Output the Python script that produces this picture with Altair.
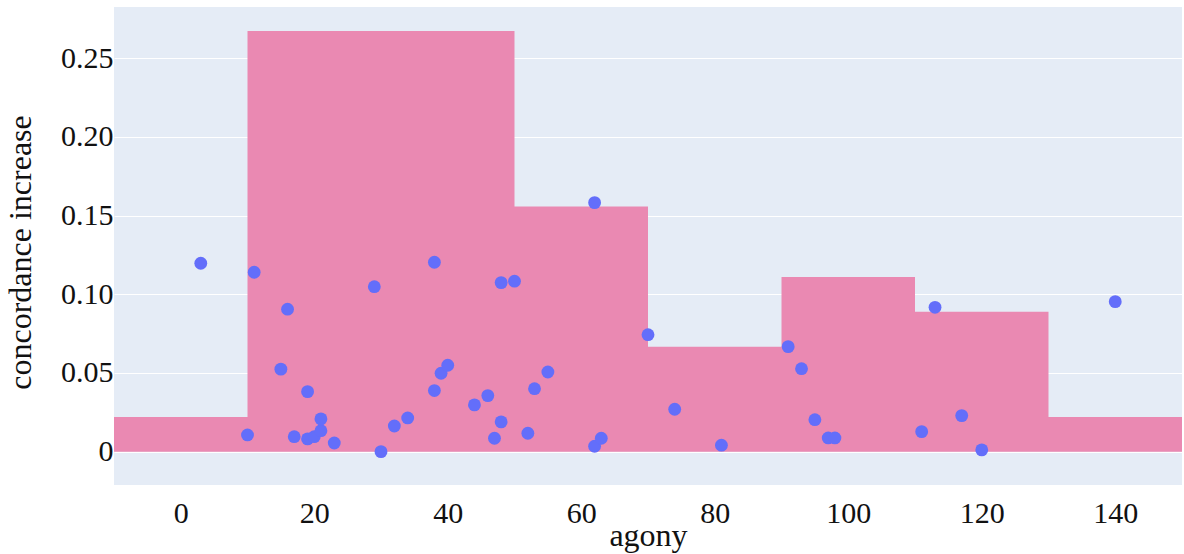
import altair as alt
import pandas as pd

# Scatter data: agony vs concordance increase
agony = [3, 10, 11, 15, 16, 17, 19, 19, 20, 21, 21, 23, 29, 30, 32, 34, 38, 38, 39, 40,
         44, 46, 47, 48, 48, 50, 52, 53, 55, 62, 62, 63, 70, 74, 81, 91, 93, 95, 97, 98,
         111, 113, 117, 120, 140]
concordance = [0.1197, 0.0106, 0.1140, 0.0524, 0.0905, 0.0095, 0.0381, 0.0081, 0.0095, 0.0133,
               0.0208, 0.0055, 0.1048, 0.0000, 0.0163, 0.0214, 0.1203, 0.0388, 0.0498, 0.0549,
               0.0297, 0.0356, 0.0085, 0.1074, 0.0189, 0.1083, 0.0117, 0.0400, 0.0506, 0.1582,
               0.0034, 0.0085, 0.0743, 0.0269, 0.0041, 0.0667, 0.0527, 0.0203, 0.0087, 0.0087,
               0.0127, 0.0917, 0.0229, 0.0011, 0.0953]

# Step bars (bin edges and heights)
bin_edges = [-10, 10, 50, 70, 90, 110, 130, 150]
bin_value = [0.022, 0.2673, 0.1557, 0.0667, 0.111, 0.0888, 0.022]

x_ticks = [0, 20, 40, 60, 80, 100, 120, 140]
y_ticks = [0, 0.05, 0.10, 0.15, 0.20, 0.25]

pts = pd.DataFrame({"agony": agony, "conc": concordance})
# step-after area: each edge carries the height of the bin that starts there
step = pd.DataFrame({"edge": bin_edges, "val": bin_value + [bin_value[-1]]})

FONT = "Liberation Serif"

xscale = alt.Scale(domain=[-10, 150], nice=False, zero=False)
yscale = alt.Scale(domain=[-0.0212, 0.2825], nice=False, zero=False)

xaxis = alt.Axis(values=x_ticks, title="agony", grid=False, labelFontSize=30,
                 labelBaseline="alphabetic", labelPadding=37, titleFontSize=32,
                 titleY=60, titleBaseline="alphabetic", titleFontWeight="normal")
yaxis = alt.Axis(values=y_ticks, title="concordance increase", grid=True,
                 gridColor="white", gridWidth=1, labelFontSize=30, labelPadding=1,
                 labelExpr="datum.value == 0 ? '0' : format(datum.value, '.2f')",
                 titleFontSize=32, titleX=-84, titleY=245, titleAngle=-90,
                 titleBaseline="alphabetic", titleAlign="center", titleFontWeight="normal")

area_layer = alt.Chart(step).mark_area(color="#EA89B2", opacity=1, interpolate="step-after",
                                       clip=True).encode(
    x=alt.X("edge:Q", scale=xscale, axis=xaxis),
    y=alt.Y("val:Q", scale=yscale, axis=yaxis),
    y2=alt.datum(0),
)

pt_layer = alt.Chart(pts).mark_circle(color="#636EFA", opacity=1, size=165).encode(
    x=alt.X("agony:Q", scale=xscale),
    y=alt.Y("conc:Q", scale=yscale),
)

chart = alt.layer(area_layer, pt_layer).properties(
    width=1068, height=478,
    autosize=alt.AutoSizeParams(type="none"),
    padding={"left": 114, "top": 7, "right": 2, "bottom": 69},
    background="white",
).configure_view(
    fill="#E5ECF6", strokeWidth=0
).configure_axis(
    domain=False, ticks=False, tickSize=0, labelFont=FONT, titleFont=FONT,
    labelColor="#111111", titleColor="#111111"
)

chart.save("out.html", embed_options={"renderer": "svg", "actions": False})
